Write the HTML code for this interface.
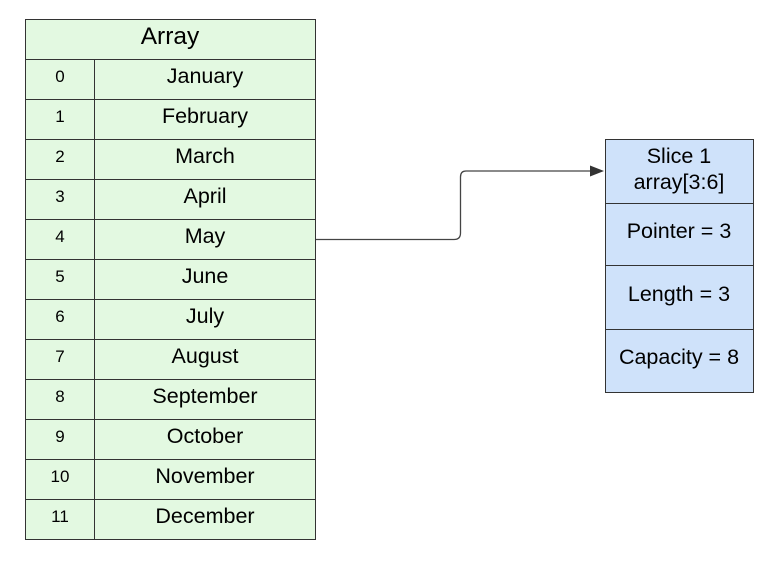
<!DOCTYPE html>
<html><head><style>
body{margin:0;background:#fff;width:777px;height:560px;overflow:hidden;font-family:"Liberation Sans",sans-serif}
svg text{font-family:"Liberation Sans",sans-serif;fill:#000}
</style></head><body>
<svg width="777" height="560" viewBox="0 0 777 560">
<rect x="25.5" y="19.5" width="290" height="520" fill="#e3f9e1" stroke="#333" stroke-width="1"/>
<text x="170" y="44" font-size="24.5" text-anchor="middle">Array</text>
<g stroke="#333" stroke-width="1">
<line x1="25" y1="59.5" x2="316" y2="59.5"/><line x1="25" y1="99.5" x2="316" y2="99.5"/>
<line x1="25" y1="139.5" x2="316" y2="139.5"/><line x1="25" y1="179.5" x2="316" y2="179.5"/>
<line x1="25" y1="219.5" x2="316" y2="219.5"/><line x1="25" y1="259.5" x2="316" y2="259.5"/>
<line x1="25" y1="299.5" x2="316" y2="299.5"/><line x1="25" y1="339.5" x2="316" y2="339.5"/>
<line x1="25" y1="379.5" x2="316" y2="379.5"/><line x1="25" y1="419.5" x2="316" y2="419.5"/>
<line x1="25" y1="459.5" x2="316" y2="459.5"/><line x1="25" y1="499.5" x2="316" y2="499.5"/>
<line x1="94.5" y1="59" x2="94.5" y2="539"/>
</g>
<g font-size="17" text-anchor="middle">
<text x="60" y="82">0</text><text x="60" y="122">1</text><text x="60" y="162">2</text><text x="60" y="202">3</text>
<text x="60" y="242">4</text><text x="60" y="282">5</text><text x="60" y="322">6</text><text x="60" y="362">7</text>
<text x="60" y="402">8</text><text x="60" y="442">9</text><text x="60" y="482">10</text><text x="60" y="522">11</text>
</g>
<g font-size="21.5" text-anchor="middle">
<text x="205" y="83">January</text><text x="205" y="123">February</text><text x="205" y="163">March</text>
<text x="205" y="203">April</text><text x="205" y="243">May</text><text x="205" y="283">June</text>
<text x="205" y="323">July</text><text x="205" y="363">August</text><text x="205" y="403">September</text>
<text x="205" y="443">October</text><text x="205" y="483">November</text><text x="205" y="523">December</text>
</g>
<rect x="605.5" y="139.5" width="148" height="253" fill="#cfe2fa" stroke="#333"/>
<g stroke="#333"><line x1="605" y1="203.5" x2="754" y2="203.5"/><line x1="605" y1="265.5" x2="754" y2="265.5"/><line x1="605" y1="329.5" x2="754" y2="329.5"/></g>
<g font-size="21.5" text-anchor="middle">
<text x="679" y="163">Slice 1</text><text x="679" y="189">array[3:6]</text>
<text x="679" y="238">Pointer = 3</text><text x="679" y="301">Length = 3</text><text x="679" y="364">Capacity = 8</text>
</g>
<path d="M316 239.5 H454 Q460.5 239.5 460.5 233 V177 Q460.5 171 466 171 H592" fill="none" stroke="#444" stroke-width="1.3"/>
<polygon points="590,165.5 604,171 590,176.5" fill="#333"/>
</svg>
</body></html>
